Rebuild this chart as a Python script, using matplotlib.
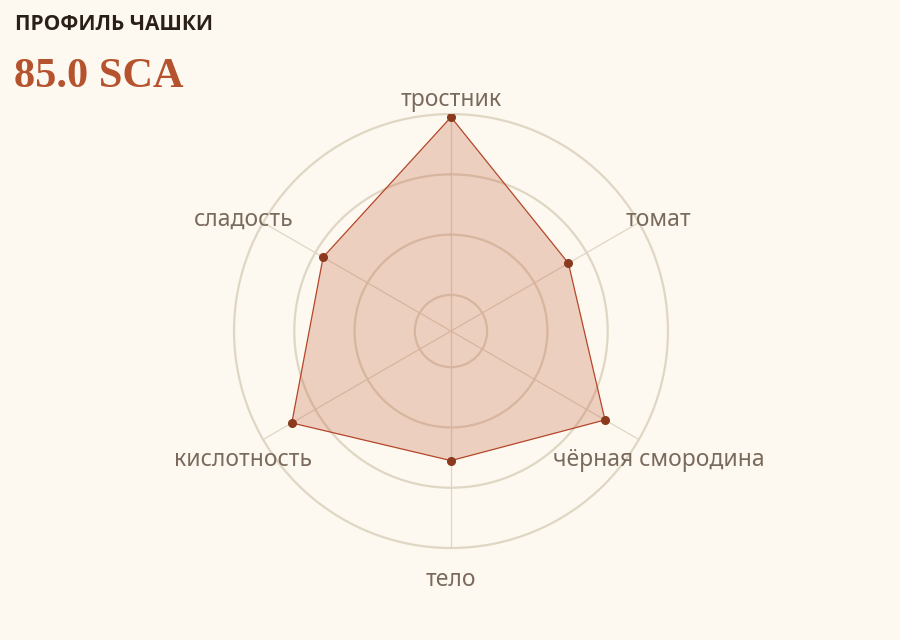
import numpy as np
import matplotlib.pyplot as plt
import matplotlib.transforms as mtransforms

# Data
attributes = ["тростник", "томат", "чёрная смородина", "тело", "кислотность", "сладость"]
scores = [9.95, 8.65, 9.35, 8.55, 9.45, 8.85]
total_score = "85.0 SCA"

bg = "#fdf8f0"
grid_col = "#e0d6c4"
label_col = "#7a6a5c"

fig = plt.figure(figsize=(9, 6.4), dpi=100, facecolor=bg)
ax = fig.add_axes([0.26, 0.14375, 0.4822, 0.678], projection="polar")
ax.set_facecolor(bg)
ax.set_theta_offset(np.pi / 2)
ax.set_theta_direction(-1)

n = len(attributes)
angles = np.linspace(0, 2 * np.pi, n, endpoint=False)
rmin, rmax = 6.4, 10.0
ax.set_ylim(rmin, rmax)

# grid
ax.set_xticks(angles)
ax.set_xticklabels([])
ax.set_yticks([7, 8, 9])
ax.set_yticklabels([])
ax.xaxis.grid(True, color=grid_col, lw=0.9)
ax.yaxis.grid(True, color=grid_col, lw=1.6)
ax.spines["polar"].set_color(grid_col)
ax.spines["polar"].set_linewidth(1.6)
ax.tick_params(length=0)

# profile
th = np.append(angles, angles[0])
vals = np.append(scores, scores[0])
ax.fill(th, vals, color="#c0562e", alpha=0.25, zorder=3, lw=0)
ax.plot(th, vals, color="#b5462a", lw=0.9, zorder=4)
ax.plot(angles, scores, "o", color="#8b3a1e", ms=5.5, zorder=5)

# labels
shift = mtransforms.offset_copy(ax.transData, fig=fig, x=0, y=-9, units="dots")
for a, name in zip(angles, attributes):
    ax.text(a, rmax + 0.38, name, ha="center", va="center", fontsize=16.5,
            family="Noto Sans", color=label_col, clip_on=False, transform=shift)

fig.text(15 / 900, 1 - 24 / 640, "ПРОФИЛЬ ЧАШКИ", fontsize=15, fontweight="bold",
         family="Open Sans", color="#2a2018", ha="left", va="center")
fig.text(14 / 900, 1 - 77 / 640, total_score, fontsize=30.5, fontweight="bold",
         family="Liberation Serif", color="#b5532e", ha="left", va="center")

fig.savefig("out.png", dpi=100, facecolor=bg)
